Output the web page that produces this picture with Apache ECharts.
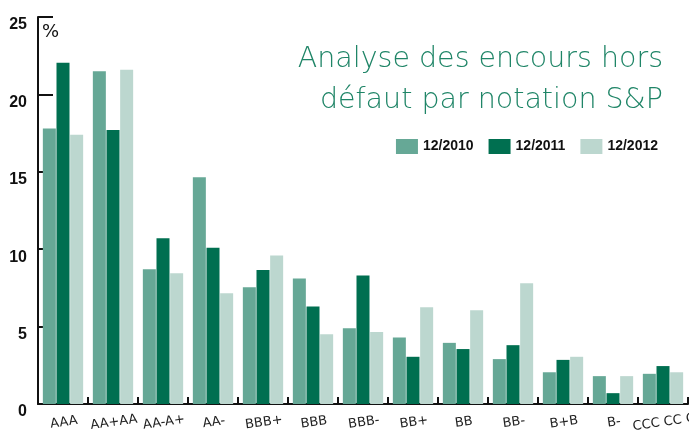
<!DOCTYPE html>
<html><head><meta charset="utf-8">
<script src="https://cdn.jsdelivr.net/npm/echarts@6/dist/echarts.min.js"></script>
<style>html,body{margin:0;padding:0;background:#fff}#c{width:689px;height:439px}</style>
</head><body><div id="c"></div>
<script>
const categories = ['AAA','AA+AA','AA-A+','AA-','BBB+','BBB','BBB-','BB+','BB','BB-','B+B','B-','CCC CC C'];
const seriesNames = ['12/2010','12/2011','12/2012'];
const v2010 = [17.8, 21.5, 8.7, 14.65, 7.55, 8.1, 4.9, 4.3, 3.95, 2.9, 2.05, 1.8, 1.95];
const v2011 = [22.05, 17.7, 10.7, 10.1, 8.65, 6.3, 8.3, 3.05, 3.55, 3.8, 2.85, 0.7, 2.45];
const v2012 = [17.4, 21.6, 8.45, 7.15, 9.6, 4.5, 4.65, 6.25, 6.05, 7.8, 3.05, 1.8, 2.05];
const titleLines = ['Analyse des encours hors', 'défaut par notation S&P'];
const colors = ['#66a896', '#006f50', '#bcd7cf'];
const boldFont = "'Liberation Sans',Arial,sans-serif";

const chart = echarts.init(document.getElementById('c'), null, {renderer:'canvas'});
const values = [v2010, v2011, v2012];
chart.setOption({
  animation: false,
  color: colors,
  legend: {
    right: 26, top: 134, itemWidth: 22, itemHeight: 15, itemGap: 15,
    icon: 'rect',
    data: seriesNames,
    textStyle: { fontFamily: boldFont, fontWeight: 'bold', fontSize: 14, color: '#111' }
  },
  graphic: [{
    type: 'text', left: 42, top: 23,
    style: { text: '%', fontFamily: 'DejaVu Sans', fontSize: 18, fill: '#111' }
  }].concat(titleLines.map((t, i) => ({
    type: 'text', x: 663, y: 45 + i * 41,
    style: { text: t, fontFamily: 'DejaVu Sans', fontWeight: 200, fontSize: 28.5, fill: '#1f8567',
      align: 'right', verticalAlign: 'top' }
  }))),
  grid: { left: 38, right: 1, top: 17, bottom: 35, containLabel: false, outerBoundsMode: 'none' },
  xAxis: {
    type: 'category',
    data: categories,
    boundaryGap: true,
    axisLine: { lineStyle: { color: '#111', width: 2 } },
    axisTick: { show: true, inside: true, length: 7, interval: 0, lineStyle: { color: '#111', width: 2 } },
    axisLabel: { interval: 0, rotate: 8, align: 'center', verticalAlign: 'top', margin: 12,
      fontFamily: 'DejaVu Sans', fontSize: 13, color: '#222', hideOverlap: false }
  },
  yAxis: [{
    type: 'value', min: 0, max: 25, interval: 5,
    splitLine: { show: false },
    axisLine: { show: true, lineStyle: { color: '#111', width: 2 } },
    axisTick: { show: true, inside: true, length: 5, lineStyle: { color: '#111', width: 2 } },
    axisLabel: { margin: 11, fontFamily: boldFont, fontWeight: 'bold', fontSize: 16, color: '#111',
      verticalAlign: 'top' }
  }, {
    type: 'value', min: 0, max: 25, interval: 5, position: 'left',
    splitLine: { show: false },
    axisLine: { show: false },
    axisLabel: { show: false },
    axisTick: { show: true, inside: true, length: 15, customValues: [20, 25], lineStyle: { color: '#111', width: 2 } }
  }],
  series: seriesNames.map((n, i) => ({
    name: n, type: 'bar', data: values[i], barWidth: 13, barGap: '5%',
    itemStyle: { color: colors[i] }
  }))
});
</script></body></html>
